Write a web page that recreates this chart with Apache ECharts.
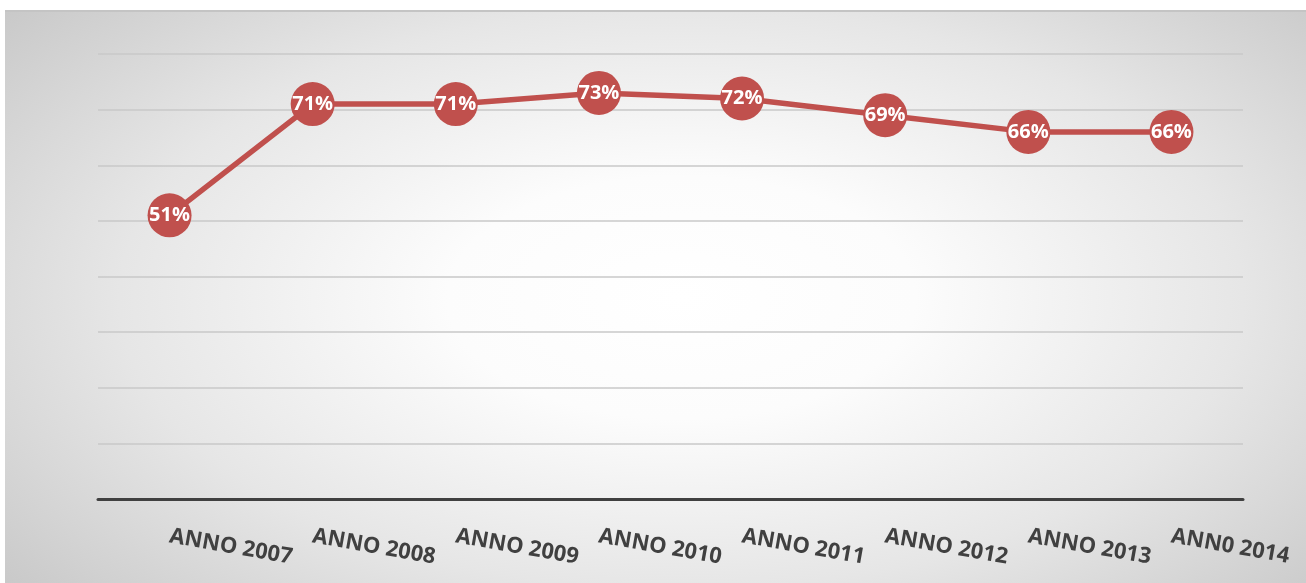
<!DOCTYPE html>
<html>
<head>
<meta charset="utf-8">
<script src="https://cdn.jsdelivr.net/npm/echarts@6/dist/echarts.min.js"></script>
<style>
html,body{margin:0;padding:0;background:#ffffff;}
#bg{position:absolute;left:5px;top:10px;width:1301px;height:573px;
background:radial-gradient(ellipse 72% 85% at 52% 50%, #ffffff 0%, #fcfcfc 25%, #e6e6e6 60%, #c3c3c3 100%);
border-top:2px solid #c4c4c4;box-sizing:border-box;}
#chart{position:absolute;left:0;top:0;width:1306px;height:583px;}
</style>
</head>
<body>
<div id="bg"></div>
<div id="chart"></div>
<script>
var categories = ['ANNO 2007','ANNO 2008','ANNO 2009','ANNO 2010','ANNO 2011','ANNO 2012','ANNO 2013','ANN0 2014'];
var values = [0.51, 0.71, 0.71, 0.73, 0.72, 0.69, 0.66, 0.66];

var chart = echarts.init(document.getElementById('chart'), null, {renderer:'canvas'});
chart.setOption({
  backgroundColor: 'transparent',
  animation: false,
  grid: {left: 98, right: 63, top: 54, bottom: 84, containLabel: false},
  xAxis: {
    type: 'category',
    data: categories,
    boundaryGap: true,
    axisLine: {show: true, lineStyle: {color: '#404040', width: 3}},
    axisTick: {show: false},
    axisLabel: {
      interval: 0,
      rotate: -10,
      margin: 37,
      color: '#404040',
      fontFamily: 'Open Sans',
      fontWeight: 'bold',
      fontSize: 22
    }
  },
  yAxis: {
    type: 'value',
    min: 0,
    max: 0.8,
    interval: 0.1,
    axisLine: {show: false},
    axisTick: {show: false},
    axisLabel: {show: false},
    splitLine: {show: true, lineStyle: {color: '#c8c8c8', width: 1.5}}
  },
  series: [{
    type: 'line',
    data: values,
    symbol: 'circle',
    symbolSize: 44,
    lineStyle: {color: '#c0504d', width: 5.5},
    itemStyle: {color: '#c0504d'},
    label: {
      show: true,
      position: 'inside',
      color: '#ffffff',
      fontFamily: 'Open Sans',
      fontWeight: 'bold',
      fontSize: 20,
      formatter: function (p) { return Math.round(p.value * 100) + '%'; }
    }
  }]
});
</script>
</body>
</html>
